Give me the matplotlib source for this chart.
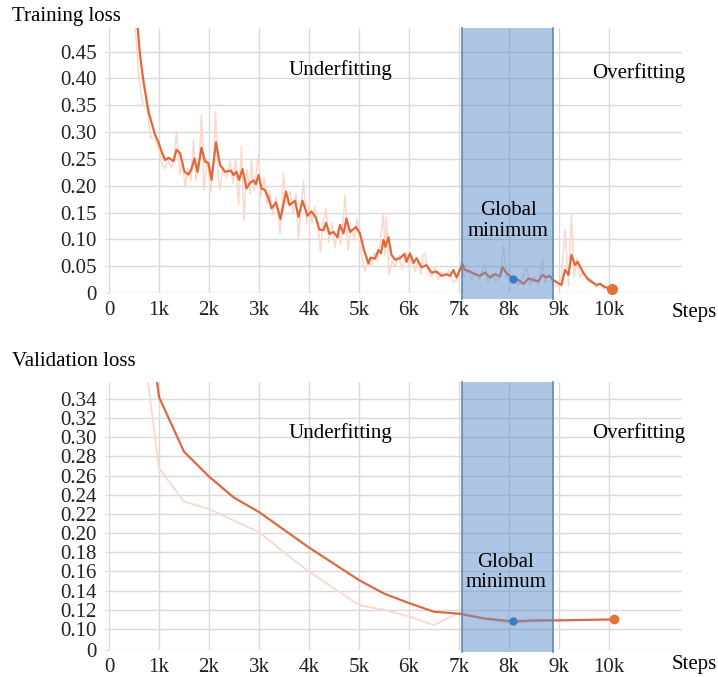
import matplotlib
matplotlib.use("Agg")
import matplotlib.pyplot as plt
from matplotlib.patches import Rectangle
from matplotlib.transforms import blended_transform_factory

# ---------------- data ----------------
x_ticks = [0, 1, 2, 3, 4, 5, 6, 7, 8, 9, 10]
x_tick_labels = ["0", "1k", "2k", "3k", "4k", "5k", "6k", "7k", "8k", "9k", "10k"]

train_y_ticks = [0, 0.05, 0.10, 0.15, 0.20, 0.25, 0.30, 0.35, 0.40, 0.45]
train_y_labels = ["0", "0.05", "0.10", "0.15", "0.20", "0.25", "0.30", "0.35", "0.40", "0.45"]

val_y_ticks = [0.0781, 0.10, 0.12, 0.14, 0.16, 0.18, 0.20, 0.22, 0.24, 0.26, 0.28, 0.30, 0.32, 0.34]
val_y_labels = ["0", "0.10", "0.12", "0.14", "0.16", "0.18", "0.20", "0.22", "0.24", "0.26",
                "0.28", "0.30", "0.32", "0.34"]

# training loss, smoothed (steps in thousands)
train_smooth_x = [0.55, 0.62, 0.69, 0.79, 0.92, 0.99, 1.05, 1.12, 1.19, 1.29, 1.35, 1.42, 1.51, 1.59,
                  1.65, 1.71, 1.77, 1.85, 1.92, 1.99, 2.05, 2.14, 2.22, 2.32, 2.44, 2.49, 2.55, 2.60,
                  2.67, 2.75, 2.82, 2.89, 2.94, 2.99, 3.05, 3.12, 3.19, 3.25, 3.34, 3.43, 3.54, 3.61,
                  3.72, 3.79, 3.87, 3.97, 4.05, 4.13, 4.21, 4.29, 4.34, 4.41, 4.49, 4.57, 4.62, 4.69,
                  4.75, 4.82, 4.94, 5.02, 5.10, 5.19, 5.23, 5.32, 5.39, 5.44, 5.49, 5.53, 5.59, 5.65,
                  5.72, 5.82, 5.91, 5.95, 6.02, 6.09, 6.15, 6.25, 6.35, 6.45, 6.55, 6.65, 6.75, 6.82,
                  6.89, 6.95, 7.07, 7.12, 7.22, 7.32, 7.42, 7.52, 7.62, 7.72, 7.82, 7.87, 7.95, 8.08,
                  8.19, 8.29, 8.39, 8.49, 8.59, 8.67, 8.74, 8.81, 8.89, 8.99, 9.05, 9.12, 9.19, 9.25,
                  9.32, 9.37, 9.42, 9.49, 9.57, 9.65, 9.75, 9.82, 9.92, 10.07]
train_smooth_y = [0.52, 0.444, 0.394, 0.338, 0.295, 0.281, 0.264, 0.248, 0.252, 0.246, 0.267, 0.261,
                  0.226, 0.221, 0.231, 0.251, 0.226, 0.271, 0.245, 0.242, 0.211, 0.281, 0.239, 0.226,
                  0.228, 0.220, 0.226, 0.211, 0.231, 0.195, 0.205, 0.210, 0.203, 0.220, 0.195, 0.192,
                  0.177, 0.158, 0.169, 0.138, 0.189, 0.164, 0.172, 0.142, 0.172, 0.144, 0.152, 0.142,
                  0.118, 0.117, 0.131, 0.110, 0.114, 0.104, 0.127, 0.111, 0.139, 0.114, 0.123, 0.111,
                  0.080, 0.055, 0.066, 0.064, 0.080, 0.074, 0.099, 0.086, 0.104, 0.071, 0.062, 0.065,
                  0.073, 0.058, 0.074, 0.056, 0.065, 0.048, 0.052, 0.038, 0.040, 0.032, 0.035, 0.032,
                  0.043, 0.029, 0.054, 0.043, 0.040, 0.035, 0.032, 0.038, 0.029, 0.035, 0.031, 0.048,
                  0.037, 0.027, 0.024, 0.017, 0.027, 0.024, 0.022, 0.034, 0.029, 0.032, 0.024, 0.018,
                  0.015, 0.043, 0.034, 0.071, 0.052, 0.058, 0.050, 0.037, 0.027, 0.021, 0.015, 0.017,
                  0.011, 0.0075]

# training loss, raw
train_raw_x = [0.52, 0.60, 0.68, 0.76, 0.84, 0.92, 1.00, 1.06, 1.12, 1.18, 1.24, 1.30, 1.35, 1.42,
               1.47, 1.52, 1.58, 1.64, 1.69, 1.74, 1.80, 1.85, 1.90, 1.96, 2.04, 2.09, 2.13, 2.18,
               2.22, 2.28, 2.35, 2.42, 2.48, 2.53, 2.59, 2.65, 2.70, 2.76, 2.82, 2.85, 2.90, 2.95,
               2.99, 3.04, 3.10, 3.16, 3.22, 3.28, 3.34, 3.42, 3.49, 3.55, 3.62, 3.68, 3.74, 3.79,
               3.84, 3.89, 3.95, 4.00, 4.06, 4.12, 4.18, 4.23, 4.28, 4.34, 4.40, 4.46, 4.52, 4.58,
               4.63, 4.68, 4.72, 4.78, 4.84, 4.90, 4.96, 5.02, 5.07, 5.12, 5.18, 5.24, 5.30, 5.36,
               5.42, 5.49, 5.52, 5.55, 5.60, 5.66, 5.72, 5.80, 5.86, 5.95, 6.00, 6.06, 6.12, 6.18,
               6.24, 6.28, 6.32, 6.38, 6.45, 6.52, 6.58, 6.65, 6.72, 6.80, 6.88, 6.96, 7.04, 7.10,
               7.18, 7.25, 7.32, 7.40, 7.52, 7.58, 7.66, 7.74, 7.82, 7.89, 7.95, 8.02, 8.10, 8.18,
               8.26, 8.35, 8.42, 8.50, 8.58, 8.67, 8.72, 8.80, 8.88, 8.96, 9.04, 9.12, 9.19, 9.25,
               9.30, 9.36, 9.42, 9.50, 9.58, 9.66, 9.74, 9.82, 9.90, 10.00, 10.07]
train_raw_y = [0.50, 0.40, 0.35, 0.345, 0.29, 0.285, 0.27, 0.239, 0.232, 0.25, 0.232, 0.248, 0.301,
               0.22, 0.245, 0.196, 0.232, 0.21, 0.285, 0.21, 0.235, 0.332, 0.192, 0.25, 0.189, 0.24,
               0.338, 0.22, 0.192, 0.235, 0.215, 0.245, 0.205, 0.25, 0.164, 0.273, 0.136, 0.23,
               0.185, 0.248, 0.19, 0.23, 0.26, 0.18, 0.215, 0.165, 0.19, 0.145, 0.18, 0.111, 0.223,
               0.165, 0.19, 0.15, 0.185, 0.099, 0.16, 0.208, 0.13, 0.165, 0.13, 0.16, 0.125, 0.077,
               0.13, 0.158, 0.095, 0.13, 0.085, 0.12, 0.09, 0.13, 0.183, 0.08, 0.12, 0.10, 0.14,
               0.09, 0.06, 0.040, 0.06, 0.05, 0.075, 0.06, 0.09, 0.149, 0.07, 0.142, 0.034, 0.06,
               0.05, 0.07, 0.045, 0.074, 0.05, 0.068, 0.04, 0.06, 0.035, 0.071, 0.074, 0.04, 0.03,
               0.05, 0.025, 0.04, 0.03, 0.042, 0.02, 0.024, 0.058, 0.03, 0.045, 0.025, 0.04, 0.025,
               0.056, 0.02, 0.035, 0.022, 0.03, 0.087, 0.03, 0.025, 0.03, 0.015, 0.025, 0.049,
               0.015, 0.03, 0.015, 0.062, 0.02, 0.035, 0.018, 0.012, 0.02, 0.118, 0.012, 0.146,
               0.03, 0.065, 0.03, 0.04, 0.02, 0.025, 0.01, 0.02, 0.008, 0.012, 0.007]

# validation loss
val_smooth_x = [0.93, 1.0, 1.5, 2.0, 2.5, 3.0, 4.0, 5.0, 5.5, 6.0, 6.5, 7.0, 7.5, 8.08, 8.5, 9.0, 10.1]
val_smooth_y = [0.37, 0.342, 0.285, 0.259, 0.237, 0.222, 0.185, 0.151, 0.137, 0.127, 0.118, 0.116,
                0.111, 0.108, 0.109, 0.109, 0.110]
val_raw_x = [0.70, 1.0, 1.5, 2.0, 3.0, 3.5, 4.0, 5.0, 5.5, 6.0, 6.5, 7.0, 7.5, 8.0, 8.5, 9.0, 10.0]
val_raw_y = [0.39, 0.268, 0.233, 0.225, 0.201, 0.180, 0.160, 0.125, 0.120, 0.113, 0.104, 0.117,
             0.111, 0.106, 0.108, 0.109, 0.110]

train_min = (8.08, 0.027)
train_last = (10.07, 0.0075)
val_min = (8.08, 0.108)
val_last = (10.1, 0.110)

region_start, region_end = 7.06, 8.88

# ---------------- style ----------------
FONT = "Liberation Serif"
FS = 15
SMOOTH = "#e2683a"
RAW = "#fad9cc"
GRID = "#dadada"

fig = plt.figure(figsize=(7.18, 6.77), dpi=100)
ax1 = fig.add_axes([0.1518, 0.5672, 0.798, 0.3914])
ax2 = fig.add_axes([0.1518, 0.0399, 0.798, 0.3959])


def style(ax, yticks, ylabels, ylim):
    ax.set_xlim(0, 11.46)
    ax.set_ylim(*ylim)
    for s in ax.spines.values():
        s.set_visible(False)
    ax.set_xticks(x_ticks)
    ax.set_xticklabels(x_tick_labels, fontfamily=FONT, fontsize=FS)
    ax.set_yticks(yticks)
    ax.set_yticklabels(ylabels, fontfamily=FONT, fontsize=FS)
    ax.tick_params(axis="x", length=0, pad=6, colors="#222222")
    ax.tick_params(axis="y", length=3, width=0.8, pad=6, colors="#222222")
    ax.tick_params(axis="y", color=GRID)
    ax.grid(True, color=GRID, linewidth=1.0)
    ax.set_axisbelow(True)


def region(ax, y0):
    tr = blended_transform_factory(ax.transData, ax.transAxes)
    r = Rectangle((region_start, y0), region_end - region_start, 1 - y0, transform=tr,
                  facecolor=(0.36, 0.56, 0.80, 0.5), edgecolor="none",
                  zorder=5, clip_on=False)
    ax.add_patch(r)
    for xe in (region_start, region_end):
        ax.plot([xe, xe], [y0, 1], transform=tr, color="#5a8bb0", linewidth=1.2,
                zorder=6, clip_on=False)


# top panel
style(ax1, train_y_ticks, train_y_labels, (0, 0.494))
ax1.plot(train_raw_x, train_raw_y, color=RAW, linewidth=1.1, zorder=3)
ax1.plot(train_smooth_x, train_smooth_y, color=SMOOTH, linewidth=1.6, zorder=4)
region(ax1, -0.022)
ax1.plot(*train_min, "o", color="#3a7cc8", markersize=5, zorder=7)
ax1.plot(*train_last, "o", color="#e8703a", markersize=7, zorder=7, clip_on=False)
ax1.text(4.63, 0.416, "Underfitting", fontfamily=FONT, fontsize=FS, ha="center", va="center", zorder=8)
ax1.text(10.6, 0.41, "Overfitting", fontfamily=FONT, fontsize=FS, ha="center", va="center", zorder=8)
ax1.text(7.99, 0.134, "Global\nminimum", fontfamily=FONT, fontsize=FS, ha="center", va="center",
         linespacing=1.1, zorder=8)

# bottom panel
style(ax2, val_y_ticks, val_y_labels, (0.0781, 0.3577))
ax2.plot(val_raw_x, val_raw_y, color=RAW, linewidth=1.3, zorder=3)
ax2.plot(val_smooth_x, val_smooth_y, color="#dc6a40", linewidth=1.6, zorder=4)
region(ax2, -0.008)
ax2.plot(*val_min, "o", color="#3a7cc8", markersize=5, zorder=7)
ax2.plot(*val_last, "o", color="#e8703a", markersize=6, zorder=7)
ax2.text(4.63, 0.3045, "Underfitting", fontfamily=FONT, fontsize=FS, ha="center", va="center", zorder=8)
ax2.text(10.6, 0.3045, "Overfitting", fontfamily=FONT, fontsize=FS, ha="center", va="center", zorder=8)
ax2.text(7.94, 0.159, "Global\nminimum", fontfamily=FONT, fontsize=FS, ha="center", va="center",
         linespacing=1.1, zorder=8)

# titles and axis names
fig.text(12 / 718, 1 - 17 / 677, "Training loss", fontfamily=FONT, fontsize=FS, ha="left", va="center")
fig.text(12 / 718, 1 - 362 / 677, "Validation loss", fontfamily=FONT, fontsize=FS, ha="left", va="center")
fig.text(672 / 718, 1 - 312 / 677, "Steps", fontfamily=FONT, fontsize=FS, ha="left", va="center")
fig.text(672 / 718, 1 - 665 / 677, "Steps", fontfamily=FONT, fontsize=FS, ha="left", va="center")

fig.savefig("out.png", dpi=100)
